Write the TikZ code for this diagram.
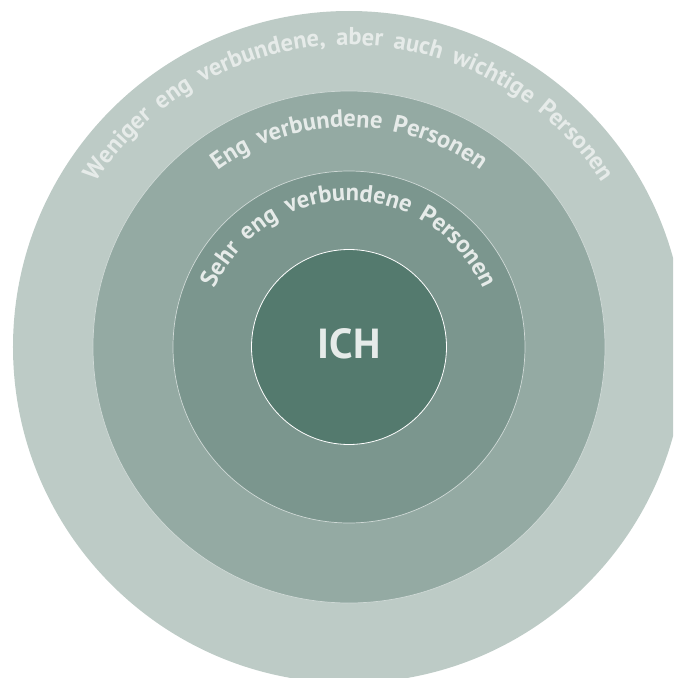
\documentclass[tikz,border=0pt]{standalone}
\usepackage{fontspec}
\setmainfont{PT Sans}
\newfontfamily\ringfam[LetterSpace=17]{PT Sans}
\usetikzlibrary{decorations.text}
\definecolor{ringA}{HTML}{BDCBC6}
\definecolor{ringB}{HTML}{94AAA3}
\definecolor{ringC}{HTML}{7B968E}
\definecolor{core}{HTML}{547A6E}
\definecolor{txt}{HTML}{E6EBE9}
\newcommand{\ringfont}{\ringfam\bfseries\fontsize{24.5}{28}\selectfont}
\tikzset{
  ring/.style={circle, inner sep=0pt, minimum size=#1, draw=white!55!ringB, line width=0.7pt},
  ringtext/.style={decorate, decoration={text along path, text={#1}, text align=center, text color=txt}}
}
\begin{document}
\begin{tikzpicture}[x=1pt,y=1pt]
\useasboundingbox (-349,-331) rectangle (324,347);
\clip (-349,-331) rectangle (324,347);
\node[ring=672pt, fill=ringA, draw=none] (outer) at (0,0) {};
\node[ring=512pt, fill=ringB] (eng) at (0,0) {};
\node[ring=352pt, fill=ringC] (sehr) at (0,0) {};
\node[ring=195pt, fill=core, draw=white, line width=0.8pt] (ich) at (0,0) {};
\node[text=txt, font=\bfseries\fontsize{42}{46}\selectfont] (ichlabel) at (0,3) {ICH};
\path[ringtext={|\ringfont|Weniger eng verbundene, aber auch wichtige Personen}] (180:302) arc[start angle=180, end angle=0, radius=302];
\path[ringtext={|\ringfont|Eng verbundene Personen}] (180:220) arc[start angle=180, end angle=0, radius=220];
\path[ringtext={|\ringfont|Sehr eng verbundene Personen}] (180:146) arc[start angle=180, end angle=0, radius=146];
\end{tikzpicture}
\end{document}
